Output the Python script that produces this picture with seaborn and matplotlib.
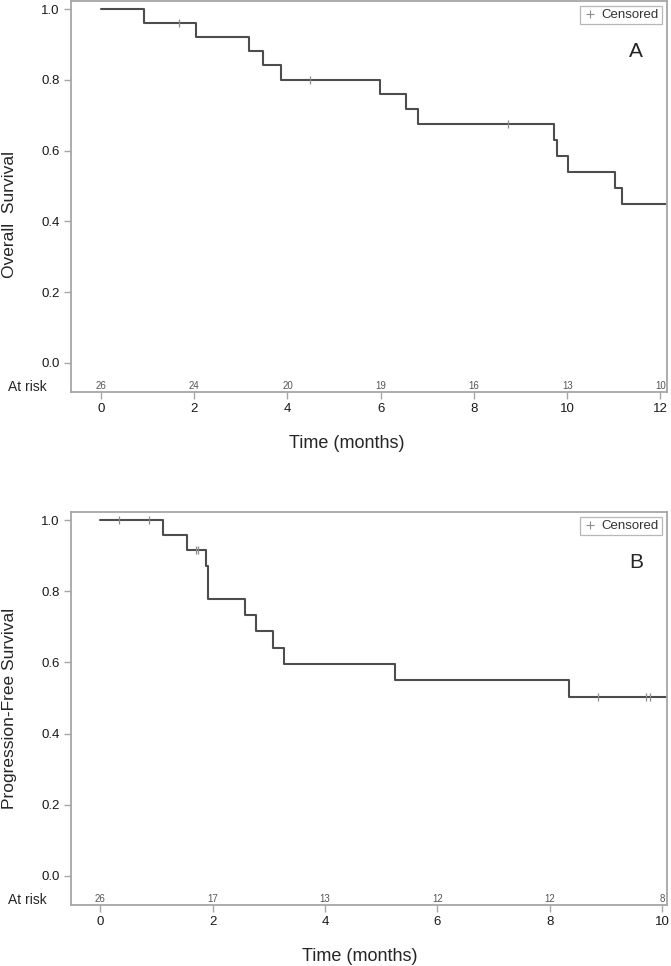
import numpy as np
import pandas as pd
import matplotlib
matplotlib.use('Agg')
import matplotlib.pyplot as plt
import matplotlib.transforms as mtransforms
from matplotlib.lines import Line2D
import seaborn as sns

# Overall survival (panel A)
os_event_t = [0.93, 2.03, 3.18, 3.47, 3.86, 5.99, 6.54, 6.79, 9.71, 9.79, 10.01, 11.03, 11.18]
os_event_s = [0.962, 0.922, 0.881, 0.841, 0.801, 0.759, 0.717, 0.675, 0.630, 0.585, 0.540, 0.495, 0.450]
os_end = 12.3
os_cens_t = [1.68, 4.48, 8.74]
os_cens_s = [0.962, 0.801, 0.675]
os_risk_t = [0, 2, 4, 6, 8, 10, 12]
os_risk_n = [26, 24, 20, 19, 16, 13, 10]

# Progression-free survival (panel B)
pfs_event_t = [1.12, 1.55, 1.89, 1.91, 2.58, 2.78, 3.07, 3.28, 5.24, 8.35]
pfs_event_s = [0.958, 0.917, 0.871, 0.779, 0.733, 0.688, 0.642, 0.596, 0.550, 0.504]
pfs_end = 10.2
pfs_cens_t = [0.33, 0.87, 1.70, 1.74, 8.86, 9.72, 9.79]
pfs_cens_s = [1.0, 1.0, 0.917, 0.917, 0.504, 0.504, 0.504]
pfs_risk_t = [0, 2, 4, 6, 8, 10]
pfs_risk_n = [26, 17, 13, 12, 12, 8]

sns.set_style('white')
plt.rcParams['font.family'] = ['Liberation Sans', 'DejaVu Sans']

LINE = '#4d4d4d'
GREY = '#a6a6a6'

fig = plt.figure(figsize=(6.71, 9.66), dpi=100)
ax_a = fig.add_axes([71/671, 1 - 392/966, 596/671, 391/966])
ax_b = fig.add_axes([71/671, 1 - 905/966, 596/671, 393/966])


def km_panel(ax, ev_t, ev_s, end, cens_t, cens_s, risk_t, risk_n, xmax, xlim, ylabel, ylab_y, xlab_x, letter):
    t = [0] + ev_t + [end]
    s = [1.0] + ev_s + [ev_s[-1]]
    df = pd.DataFrame({'time': t, 'surv': s})
    sns.lineplot(data=df, x='time', y='surv', drawstyle='steps-post', estimator=None,
                 color=LINE, linewidth=1.5, ax=ax)
    cdf = pd.DataFrame({'time': cens_t, 'surv': cens_s})
    sns.scatterplot(data=cdf, x='time', y='surv', marker='|', s=40, linewidth=0.9,
                    color='#8c8c8c', ax=ax, zorder=3)

    ax.set_xlim(*xlim)
    ax.set_ylim(-0.082, 1.023)
    ax.set_xticks(np.arange(0, xmax + 1, 2))
    ax.set_yticks(np.arange(0, 1.01, 0.2))
    ax.set_yticklabels([f'{v:.1f}' for v in np.arange(0, 1.01, 0.2)])
    ax.tick_params(axis='both', direction='out', length=5, width=1, color=GREY,
                   labelsize=9.5, labelcolor='#1a1a1a', pad=3, bottom=True, left=True)
    for sp in ax.spines.values():
        sp.set_color(GREY)
        sp.set_linewidth(1.3)

    ax.set_xlabel('Time (months)', fontsize=13, va='center')
    ax.xaxis.set_label_coords(xlab_x, -0.131)
    ax.set_ylabel(ylabel, fontsize=12.5, va='center')
    ax.yaxis.set_label_coords(-0.104, ylab_y)

    # numbers at risk
    for rt, rn in zip(risk_t, risk_n):
        ax.text(rt, -0.066, str(rn), fontsize=7, color='#555555', ha='center', va='center')
    tr = mtransforms.blended_transform_factory(fig.transFigure, ax.transData)
    ax.text(8/671, -0.068, 'At risk', transform=tr, fontsize=10, ha='left', va='center')

    ax.text(0.948, 0.872, letter, transform=ax.transAxes, fontsize=15, ha='center', va='center')

    h = Line2D([], [], marker='+', linestyle='none', color='#8c8c8c', markersize=6, markeredgewidth=0.8)
    leg = ax.legend([h], ['Censored'], loc='upper right', fontsize=9.5, frameon=True,
                    fancybox=False, edgecolor=GREY, borderpad=0.25, handlelength=1.0,
                    handletextpad=0.4, borderaxespad=0.35, labelcolor='#333333')
    leg.get_frame().set_linewidth(0.9)


km_panel(ax_a, os_event_t, os_event_s, os_end, os_cens_t, os_cens_s, os_risk_t, os_risk_n,
         12, (-0.643, 12.14), 'Overall  Survival', 0.455, 0.463, 'A')
km_panel(ax_b, pfs_event_t, pfs_event_s, pfs_end, pfs_cens_t, pfs_cens_s, pfs_risk_t, pfs_risk_n,
         10, (-0.52, 10.09), 'Progression-Free Survival', 0.5, 0.485, 'B')

fig.savefig('out.png', dpi=100)
